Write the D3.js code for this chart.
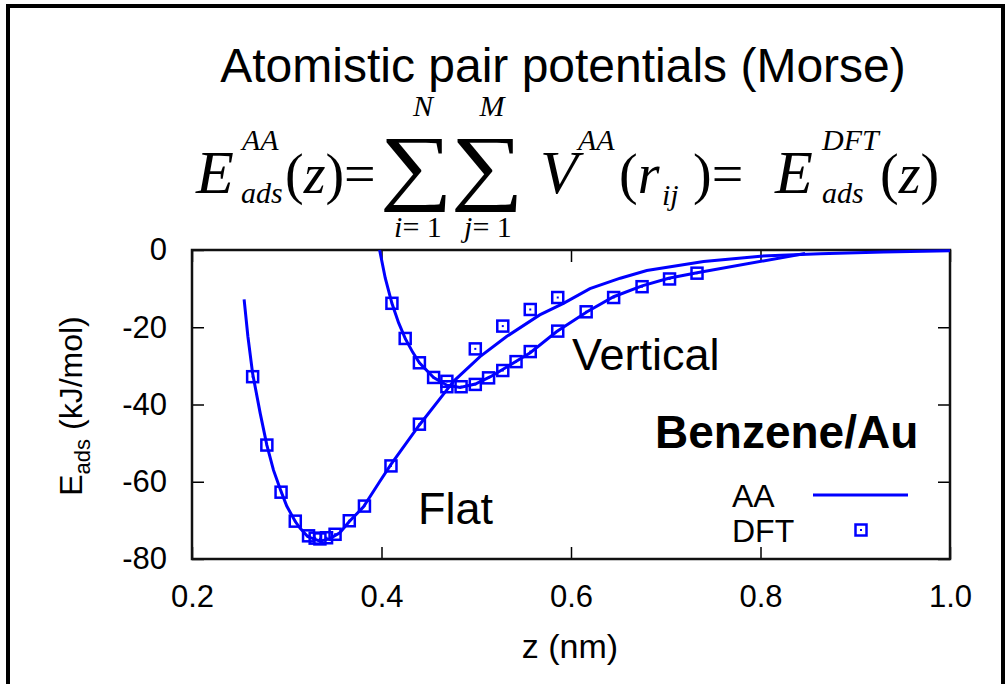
<!DOCTYPE html>
<html>
<head>
<meta charset="utf-8">
<script src="https://cdn.jsdelivr.net/npm/d3@7"></script>
<style>
  body { margin: 0; background: #fff; }
  svg { display: block; }
  .tick text { font-family: "Liberation Sans", Arial, sans-serif; font-size: 31px; fill: #000; }
</style>
</head>
<body>
<div id="chart"></div>
<script>
// data
var flatAAz = [0.255,0.259,0.264,0.272,0.279,0.286,0.294,0.300,0.309,0.314,0.322,0.335,0.345,0.356,0.366,0.381,0.398,0.410,0.440,0.469,0.476,0.504,0.532,0.567,0.592,0.620,0.652,0.680,0.740,0.800,0.863,0.930,1.0];
var flatAAe = [-12.8,-22.4,-32.0,-42.3,-50.5,-57,-62.5,-66.3,-70.3,-72,-74.2,-75.4,-74.8,-73.2,-70.3,-66.5,-60,-55.5,-45.3,-36.2,-34.0,-27.6,-22.4,-16.8,-13.8,-10.0,-7.3,-5.3,-3.0,-1.6,-1.0,-0.5,-0.2];

var vertAAz = [0.398,0.404,0.411,0.418,0.425,0.433,0.440,0.455,0.469,0.483,0.499,0.515,0.530,0.557,0.585,0.617,0.645,0.675,0.703,0.733,0.847];
var vertAAe = [0,-7.3,-13.8,-18.8,-22.9,-26.5,-29.2,-33.0,-35.0,-35.6,-34.7,-32.8,-30.6,-26.6,-21.1,-16.0,-12.1,-9.3,-7.3,-5.9,-0.9];

var flatDFTz = [0.264,0.279,0.294,0.309,0.323,0.330,0.335,0.342,0.351,0.366,0.382,0.410,0.440,0.469,0.499,0.528,0.557,0.586];
var flatDFTe = [-32.8,-50.5,-62.7,-70.2,-74.0,-74.6,-74.8,-74.5,-73.6,-70.1,-66.3,-55.9,-45.1,-35.4,-25.6,-19.7,-15.4,-12.3];

var vertDFTz = [0.411,0.425,0.440,0.455,0.469,0.484,0.499,0.513,0.528,0.542,0.557,0.586,0.616,0.645,0.675,0.704,0.733];
var vertDFTe = [-13.8,-22.9,-29.2,-33.0,-34.0,-35.4,-34.8,-33.1,-31.2,-28.9,-26.3,-21.0,-16.0,-12.3,-9.5,-7.5,-6.0];

var xTicks = [0.2,0.4,0.6,0.8,1.0];
var yTicks = [0,-20,-40,-60,-80];

var W = 1007, H = 684;
var blue = "#0000ff";
var sans = '"Liberation Sans", Arial, sans-serif';
var serif = '"Liberation Serif", "Times New Roman", serif';

var svg = d3.select("#chart").append("svg")
  .attr("width", W).attr("height", H);

// outer frame of the slide picture
svg.append("rect").attr("x", 8).attr("y", 6).attr("width", 995).attr("height", 700)
  .attr("fill", "none").attr("stroke", "#000").attr("stroke-width", 4);

// title
svg.append("text").attr("x", 563).attr("y", 82).attr("text-anchor", "middle")
  .style("font-family", sans).style("font-size", "48px")
  .text("Atomistic pair potentials (Morse)");

// equation, built from pieces
var eq = svg.append("g").style("font-family", serif).style("font-style", "italic");
function piece(x, y, size, txt, anchor) {
  var t = eq.append("text").attr("x", x).attr("y", y).style("font-size", size + "px").text(txt);
  if (anchor) t.attr("text-anchor", anchor);
  return t;
}
function run(x, y, size, parts, anchor) {
  var t = eq.append("text").attr("x", x).attr("y", y).style("font-size", size + "px");
  if (anchor) t.attr("text-anchor", anchor);
  parts.forEach(function(p){
    t.append("tspan").style("font-style", p[1] ? "italic" : "normal").text(p[0]);
  });
  return t;
}
function sigma(cx) {
  eq.append("text").attr("transform", "translate(" + cx + ",194) scale(1.22,1)")
    .attr("text-anchor", "middle").style("font-size", "84px").style("font-style", "normal")
    .text("\u2211");
}
piece(196, 193, 62, "E");
piece(242, 150, 30, "AA");
piece(241, 203, 30, "ads");
run(285, 193, 56, [["(",0],["z",1],[")=",0]]);
sigma(416);
sigma(487);
piece(423, 116, 30, "N", "middle");
piece(492, 116, 30, "M", "middle");
run(418, 237, 30, [["i",1],["= 1",0]], "middle");
run(488, 237, 30, [["j",1],["= 1",0]], "middle");
piece(540, 193, 62, "V");
piece(578, 150, 30, "AA");
run(619, 193, 56, [["(",0],["r",1]]);
piece(662, 205, 30, "ij");
run(693, 193, 56, [[")=",0]]);
piece(775, 193, 62, "E");
piece(822, 150, 30, "DFT");
piece(822, 203, 30, "ads");
run(880, 193, 56, [["(",0],["z",1],[")",0]]);

// plot
var x = d3.scaleLinear().domain([0.2, 1.0]).range([192, 950]);
var y = d3.scaleLinear().domain([-80, 0]).range([559, 250]);

var fmtX = d3.format(".1f");

svg.append("g").attr("transform", "translate(0,559)")
  .call(d3.axisBottom(x).tickValues(xTicks).tickSize(-12).tickPadding(26).tickFormat(fmtX))
  .call(function(g){ g.select(".domain").remove(); });
svg.append("g").attr("transform", "translate(0,250)")
  .call(d3.axisTop(x).tickValues(xTicks).tickSize(-12).tickFormat(""))
  .call(function(g){ g.select(".domain").remove(); });
svg.append("g").attr("transform", "translate(192,0)")
  .call(d3.axisLeft(y).tickValues(yTicks).tickSize(-12).tickPadding(25)
    .tickFormat(function(d){ return String(d); }))
  .call(function(g){ g.select(".domain").remove(); });
svg.append("g").attr("transform", "translate(950,0)")
  .call(d3.axisRight(y).tickValues(yTicks).tickSize(-12).tickFormat(""))
  .call(function(g){ g.select(".domain").remove(); });

svg.selectAll(".tick line").attr("stroke", "#000").attr("stroke-width", 1.5);

svg.append("rect").attr("x", 192).attr("y", 250).attr("width", 758).attr("height", 309)
  .attr("fill", "none").attr("stroke", "#111").attr("stroke-width", 2.5);

// axis titles
var yl = svg.append("text").attr("transform", "translate(82,406) rotate(-90)")
  .attr("text-anchor", "middle").style("font-family", sans).style("font-size", "32px");
yl.append("tspan").text("E");
yl.append("tspan").attr("dy", 8).style("font-size", "22px").text("ads");
yl.append("tspan").attr("dy", -8).text(" (kJ/mol)");

svg.append("text").attr("x", 570).attr("y", 658).attr("text-anchor", "middle")
  .style("font-family", sans).style("font-size", "34px").text("z (nm)");

// curves
var line = d3.line().x(function(d){ return x(d[0]); }).y(function(d){ return y(d[1]); });
var flatAA = d3.zip(flatAAz, flatAAe);
var vertAA = d3.zip(vertAAz, vertAAe);

svg.append("path").datum(flatAA).attr("d", line)
  .attr("fill", "none").attr("stroke", blue).attr("stroke-width", 3);
svg.append("path").datum(vertAA).attr("d", line)
  .attr("fill", "none").attr("stroke", blue).attr("stroke-width", 3);

var dft = d3.zip(flatDFTz, flatDFTe).concat(d3.zip(vertDFTz, vertDFTe));
var s = 11;
var pts = svg.selectAll(".dft").data(dft).enter().append("g").attr("class", "dft")
  .attr("transform", function(d){ return "translate(" + x(d[0]) + "," + y(d[1]) + ")"; });
pts.append("rect").attr("x", -s/2).attr("y", -s/2).attr("width", s).attr("height", s)
  .attr("fill", "none").attr("stroke", blue).attr("stroke-width", 2.5);
pts.append("rect").attr("x", -1).attr("y", -1).attr("width", 2).attr("height", 2).attr("fill", blue);

// labels
svg.append("text").attr("x", 572).attr("y", 370).style("font-family", sans).style("font-size", "45px").text("Vertical");
svg.append("text").attr("x", 418).attr("y", 524).style("font-family", sans).style("font-size", "45px").text("Flat");
svg.append("text").attr("x", 655).attr("y", 448).style("font-family", sans).style("font-size", "46px")
  .style("font-weight", "bold").text("Benzene/Au");

// legend
svg.append("text").attr("x", 732).attr("y", 507).style("font-family", sans).style("font-size", "32px").text("AA");
svg.append("text").attr("x", 732).attr("y", 542).style("font-family", sans).style("font-size", "32px").text("DFT");
svg.append("line").attr("x1", 813).attr("x2", 908).attr("y1", 495).attr("y2", 495)
  .attr("stroke", blue).attr("stroke-width", 3);
var lg = svg.append("g").attr("transform", "translate(861,530)");
lg.append("rect").attr("x", -s/2).attr("y", -s/2).attr("width", s).attr("height", s)
  .attr("fill", "none").attr("stroke", blue).attr("stroke-width", 2.5);
lg.append("rect").attr("x", -1).attr("y", -1).attr("width", 2).attr("height", 2).attr("fill", blue);
</script>
</body>
</html>
